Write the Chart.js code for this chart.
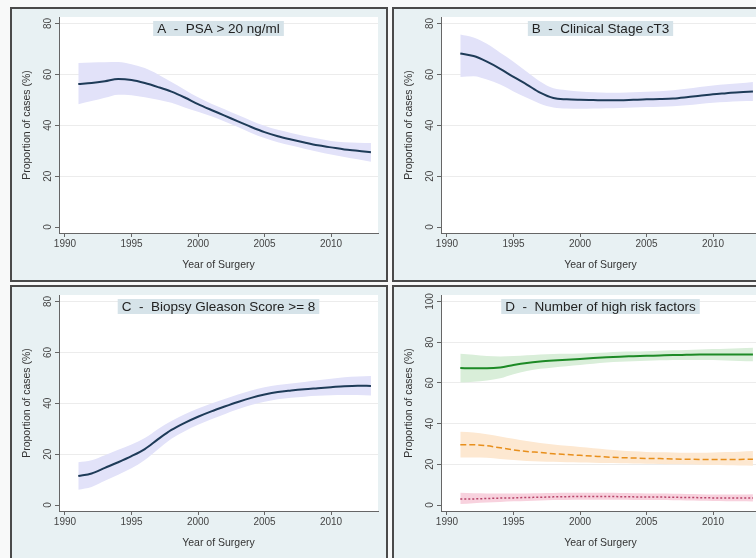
<!DOCTYPE html>
<html>
<head>
<meta charset="utf-8">
<script src="https://cdn.jsdelivr.net/npm/chart.js@4.4.1/dist/chart.umd.min.js"></script>
<style>
  html, body { margin: 0; padding: 0; width: 756px; height: 558px; overflow: hidden; background: #f8f9f9; }
  .panel { position: absolute; width: 374px; height: 271px; border: 2px solid #4a4a4a; background: #e8f1f3; }
  .panel canvas { display: block; }
</style>
</head>
<body>
<div class="panel" style="left:10px;top:7px"><canvas id="chartA" width="374" height="271"></canvas></div>
<div class="panel" style="left:392px;top:7px"><canvas id="chartB" width="374" height="271"></canvas></div>
<div class="panel" style="left:10px;top:285px"><canvas id="chartC" width="374" height="271"></canvas></div>
<div class="panel" style="left:392px;top:285px"><canvas id="chartD" width="374" height="271"></canvas></div>
<script>
const years = [1991, 1992, 1993, 1994, 1995, 1996, 1997, 1998, 1999, 2000, 2001, 2002,
  2003, 2004, 2005, 2006, 2007, 2008, 2009, 2010, 2011, 2012, 2013];
const xTicks = [1990, 1995, 2000, 2005, 2010];
const yTicks80 = [0, 20, 40, 60, 80];
const yTicks100 = [0, 20, 40, 60, 80, 100];

// A - PSA > 20 ng/ml
const psaFit = [56.2, 56.6, 57.3, 58.2, 57.8, 56.6, 55.0, 53.2, 50.9, 48.3, 46.0, 43.8, 41.5, 39.3, 37.3, 35.7, 34.4, 33.2, 32.1, 31.3, 30.5, 30.0, 29.4];
const psaHi = [64.5, 64.7, 64.8, 64.9, 64.0, 62.5, 60.0, 57.0, 54.0, 51.0, 48.5, 46.3, 44.0, 41.8, 39.8, 38.2, 37.0, 35.8, 34.8, 33.8, 33.3, 33.1, 33.0];
const psaLo = [48.3, 49.5, 50.8, 52.0, 51.8, 51.0, 50.0, 48.8, 47.0, 45.3, 43.5, 41.5, 39.3, 37.0, 35.0, 33.3, 32.0, 30.8, 29.6, 28.5, 27.5, 26.6, 25.7];

// B - Clinical Stage cT3
const ct3Fit = [68.2, 67.2, 65.0, 62.2, 59.0, 56.0, 52.8, 50.7, 50.2, 50.0, 49.9, 49.8, 49.8, 50.0, 50.2, 50.3, 50.5, 51.0, 51.6, 52.2, 52.6, 53.0, 53.3];
const ct3Hi = [75.7, 74.5, 72.0, 68.5, 65.0, 61.0, 57.2, 54.5, 53.8, 53.3, 53.0, 52.8, 52.8, 53.0, 53.2, 53.4, 53.8, 54.3, 55.0, 55.6, 56.1, 56.5, 57.0];
const ct3Lo = [59.0, 59.3, 58.0, 56.0, 53.3, 50.8, 48.5, 47.0, 46.6, 46.5, 46.6, 46.7, 46.8, 47.0, 47.2, 47.3, 47.5, 47.9, 48.4, 48.8, 49.1, 49.4, 49.5];

// C - Biopsy Gleason Score >= 8
const gleasonFit = [11.4, 12.4, 14.6, 16.8, 19.2, 22.0, 25.9, 29.5, 32.3, 34.7, 36.8, 38.7, 40.5, 42.1, 43.4, 44.4, 45.0, 45.5, 45.9, 46.3, 46.7, 46.9, 46.8];
const gleasonHi = [16.8, 17.6, 19.6, 21.7, 23.8, 26.3, 29.9, 33.0, 35.7, 37.9, 39.9, 41.7, 43.4, 45.0, 46.3, 47.2, 47.8, 48.4, 49.0, 49.6, 50.2, 50.5, 50.7];
const gleasonLo = [6.0, 7.1, 9.5, 11.9, 14.4, 17.7, 21.9, 26.0, 29.0, 31.5, 33.7, 35.7, 37.6, 39.3, 40.6, 41.6, 42.2, 42.6, 42.9, 43.1, 43.2, 43.2, 43.0];

// D - Number of high risk factors
const zeroFit = [67.3, 67.2, 67.2, 67.6, 68.8, 69.8, 70.5, 71.0, 71.4, 71.8, 72.2, 72.6, 72.9, 73.1, 73.3, 73.5, 73.7, 73.8, 73.9, 73.9, 73.9, 73.9, 74.0];
const zeroHi = [74.3, 73.8, 73.2, 73.0, 73.2, 73.6, 74.0, 74.2, 74.3, 74.4, 74.7, 75.0, 75.3, 75.4, 75.6, 75.8, 76.0, 76.2, 76.4, 76.6, 76.8, 77.0, 77.3];
const zeroLo = [60.2, 60.6, 61.2, 62.3, 64.3, 65.9, 66.9, 67.6, 68.2, 68.8, 69.4, 70.0, 70.4, 70.7, 70.9, 71.1, 71.3, 71.3, 71.3, 71.2, 71.0, 70.8, 70.6];
const oneFit = [29.6, 29.6, 29.1, 28.1, 27.1, 26.3, 25.8, 25.2, 24.8, 24.4, 24.0, 23.6, 23.3, 23.1, 22.9, 22.8, 22.6, 22.5, 22.4, 22.4, 22.4, 22.4, 22.5];
const oneHi = [36.0, 35.6, 34.8, 33.7, 32.5, 31.4, 30.5, 29.7, 29.1, 28.5, 27.9, 27.3, 26.8, 26.4, 26.1, 25.9, 25.8, 25.7, 25.7, 25.8, 26.0, 26.2, 26.5];
const oneLo = [23.3, 23.4, 23.2, 22.6, 22.1, 21.6, 21.4, 21.2, 21.0, 20.9, 20.8, 20.6, 20.5, 20.4, 20.3, 20.2, 20.0, 19.9, 19.8, 19.6, 19.5, 19.4, 19.3];
const twoFit = [2.9, 3.0, 3.2, 3.4, 3.5, 3.7, 3.8, 4.0, 4.1, 4.2, 4.2, 4.2, 4.1, 4.0, 3.9, 3.9, 3.8, 3.7, 3.6, 3.5, 3.5, 3.4, 3.4];
const twoHi = [6.0, 5.8, 5.7, 5.6, 5.6, 5.7, 5.8, 5.9, 6.0, 6.0, 6.0, 6.0, 5.9, 5.8, 5.7, 5.6, 5.5, 5.4, 5.3, 5.2, 5.2, 5.2, 5.3];
const twoLo = [0.5, 0.9, 1.2, 1.5, 1.8, 2.0, 2.2, 2.4, 2.5, 2.6, 2.6, 2.6, 2.6, 2.5, 2.4, 2.4, 2.3, 2.2, 2.1, 2.0, 1.9, 1.8, 1.7];

const FONT = '"Liberation Sans", Arial, sans-serif';
Chart.defaults.font.family = FONT;
Chart.defaults.color = '#333';

const pts = vals => vals.map((v, i) => ({ x: years[i], y: v }));

// white plot region
const plotBg = {
  id: 'plotBg',
  beforeDraw(chart) {
    const { ctx, chartArea: a } = chart;
    ctx.save();
    ctx.fillStyle = '#ffffff';
    ctx.fillRect(a.left, a.top, a.right - a.left, a.bottom - a.top);
    ctx.restore();
  }
};

// y tick labels, turned like the Stata ones
const rotatedYTicks = {
  id: 'rotatedYTicks',
  afterDraw(chart) {
    const ys = chart.scales.y, ctx = chart.ctx;
    ctx.save();
    ctx.fillStyle = '#444';
    ctx.font = '10px ' + FONT;
    ctx.textAlign = 'center';
    ctx.textBaseline = 'middle';
    ys.ticks.forEach(t => {
      ctx.save();
      ctx.translate(chart.chartArea.left - 11, ys.getPixelForValue(t.value));
      ctx.rotate(-Math.PI / 2);
      ctx.fillText(String(t.value), 0, 0);
      ctx.restore();
    });
    ctx.restore();
  }
};

const titleBox = {
  id: 'titleBox',
  afterDraw(chart, args, opts) {
    const { ctx, chartArea: a } = chart;
    ctx.save();
    ctx.font = '13.5px ' + FONT;
    const w = ctx.measureText(opts.text).width;
    const cx = (a.left + a.right) / 2;
    const cy = a.top + 11.5;
    ctx.fillStyle = '#d6e3e9';
    ctx.fillRect(cx - w / 2 - 4, cy - 7.5, w + 8, 15);
    ctx.fillStyle = '#222';
    ctx.textAlign = 'center';
    ctx.textBaseline = 'middle';
    ctx.fillText(opts.text, cx, cy + 0.5);
    ctx.restore();
  }
};

function makePanel(id, title, yTicks, series) {
  const top = yTicks[yTicks.length - 1];
  const span = top / 203.5;
  const datasets = [];
  series.forEach(s => {
    datasets.push({ data: pts(s.fit), borderColor: s.line, borderWidth: s.width || 2,
      borderDash: s.dash || [], fill: false });
    datasets.push({ data: pts(s.hi), borderWidth: 0, borderColor: 'transparent', fill: false });
    datasets.push({ data: pts(s.lo), borderWidth: 0, borderColor: 'transparent',
      backgroundColor: s.band, fill: '-1' });
  });
  new Chart(document.getElementById(id), {
    type: 'line',
    data: { datasets },
    options: {
      responsive: false,
      animation: false,
      devicePixelRatio: 1,
      layout: { padding: { top: 8, right: 8, left: 0, bottom: 0 } },
      elements: { point: { radius: 0 }, line: { cubicInterpolationMode: 'monotone' } },
      plugins: {
        legend: { display: false },
        tooltip: { enabled: false },
        filler: { drawTime: 'beforeDatasetsDraw' },
        titleBox: { text: title }
      },
      scales: {
        x: {
          type: 'linear',
          min: 1989.55,
          max: 2013.53,
          afterBuildTicks: sc => { sc.ticks = xTicks.map(v => ({ value: v })); },
          afterFit: sc => { sc.height = 47; },
          ticks: { font: { size: 10 }, color: '#444', padding: 1, maxRotation: 0, callback: v => String(v) },
          grid: { drawOnChartArea: false, drawTicks: true, tickLength: 4, tickColor: '#666' },
          border: { color: '#666', width: 1 },
          title: { display: true, text: 'Year of Surgery', font: { size: 10.5 }, color: '#333',
            padding: { top: 0, bottom: 9 } }
        },
        y: {
          min: -6 * span,
          max: top + 6.5 * span,
          afterBuildTicks: sc => { sc.ticks = yTicks.map(v => ({ value: v })); },
          afterFit: sc => { sc.width = 47; },
          ticks: { display: false },
          grid: {
            color: c => (c.tick && c.tick.value === 0) ? 'rgba(0,0,0,0)' : '#ececec',
            drawTicks: true, tickLength: 4, tickColor: '#666'
          },
          border: { color: '#666', width: 1 },
          title: { display: true, text: 'Proportion of cases (%)', font: { size: 10.5 }, color: '#333',
            padding: { top: 8.4, bottom: 0 } }
        }
      }
    },
    plugins: [plotBg, rotatedYTicks, titleBox]
  });
}

const navy = '#1e3b58';
const lavender = '#e2e2f9';

makePanel('chartA', 'A  -  PSA > 20 ng/ml', yTicks80,
  [{ fit: psaFit, hi: psaHi, lo: psaLo, line: navy, band: lavender }]);
makePanel('chartB', 'B  -  Clinical Stage cT3', yTicks80,
  [{ fit: ct3Fit, hi: ct3Hi, lo: ct3Lo, line: navy, band: lavender }]);
makePanel('chartC', 'C  -  Biopsy Gleason Score >= 8', yTicks80,
  [{ fit: gleasonFit, hi: gleasonHi, lo: gleasonLo, line: navy, band: lavender }]);
makePanel('chartD', 'D  -  Number of high risk factors', yTicks100, [
  { fit: zeroFit, hi: zeroHi, lo: zeroLo, line: '#1d8a26', band: '#d9eed9' },
  { fit: oneFit, hi: oneHi, lo: oneLo, line: '#e88f1c', band: '#fde8d1', dash: [6, 3], width: 1.5 },
  { fit: twoFit, hi: twoHi, lo: twoLo, line: '#b8456a', band: '#f8d2de', dash: [2, 2], width: 1.5 }
]);
</script>
</body>
</html>
